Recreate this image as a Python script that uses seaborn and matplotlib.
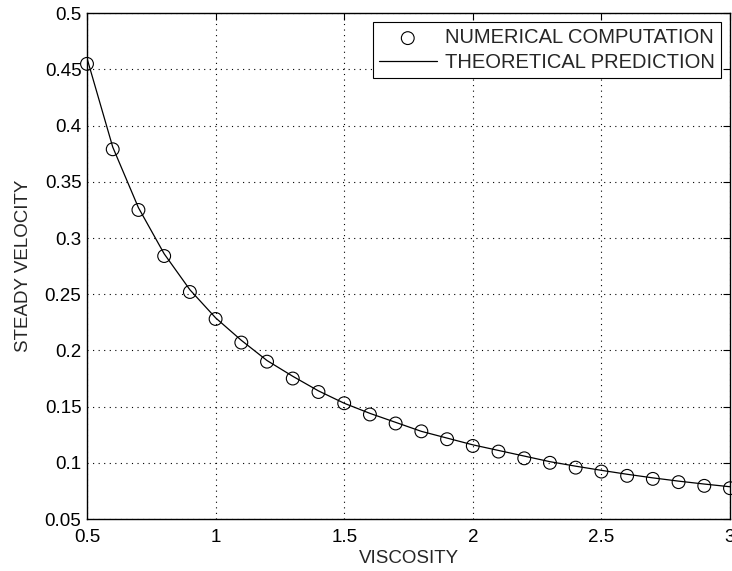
import matplotlib
matplotlib.use("Agg")
import matplotlib.pyplot as plt
import seaborn as sns
import pandas as pd

# Viscosity values where the steady velocity was evaluated
viscosity = [0.5, 0.6, 0.7, 0.8, 0.9, 1.0, 1.1, 1.2, 1.3, 1.4, 1.5, 1.6, 1.7,
             1.8, 1.9, 2.0, 2.1, 2.2, 2.3, 2.4, 2.5, 2.6, 2.7, 2.8, 2.9, 3.0]

# Steady velocity from the numerical computation
numerical = [0.455, 0.379, 0.325, 0.284, 0.252, 0.228, 0.207, 0.190, 0.175,
             0.163, 0.153, 0.143, 0.135, 0.128, 0.121, 0.115, 0.110, 0.104,
             0.100, 0.0957, 0.0922, 0.0884, 0.0857, 0.0828, 0.0795, 0.0774]

# Steady velocity from the theoretical prediction
theoretical = [0.460, 0.381, 0.327, 0.286, 0.254, 0.229, 0.209, 0.191, 0.177,
               0.164, 0.153, 0.144, 0.136, 0.128, 0.122, 0.116, 0.111, 0.106,
               0.101, 0.0970, 0.0933, 0.0898, 0.0866, 0.0837, 0.0811, 0.0787]

xticks = [0.5, 1, 1.5, 2, 2.5, 3]
xticklabels = ["0.5", "1", "1.5", "2", "2.5", "3"]
yticks = [0.05, 0.1, 0.15, 0.2, 0.25, 0.3, 0.35, 0.4, 0.45, 0.5]
yticklabels = ["0.05", "0.1", "0.15", "0.2", "0.25", "0.3", "0.35", "0.4", "0.45", "0.5"]

df = pd.DataFrame({"viscosity": viscosity,
                   "numerical": numerical,
                   "theoretical": theoretical})

sns.set_style("white")
plt.rcParams["font.family"] = ["Liberation Sans", "DejaVu Sans"]
plt.rcParams["font.size"] = 13.5

fig = plt.figure(figsize=(7.32, 5.71), dpi=100)
ax = fig.add_axes([87 / 732, 1 - 519 / 571, (730 - 87) / 732, (519 - 13.3) / 571])

sns.scatterplot(data=df, x="viscosity", y="numerical", ax=ax,
                marker="o", s=85, facecolors="none", edgecolors="black",
                linewidths=0.8, label="NUMERICAL COMPUTATION", zorder=3,
                clip_on=False)
sns.lineplot(data=df, x="viscosity", y="theoretical", ax=ax,
             color="black", linewidth=0.9, label="THEORETICAL PREDICTION",
             zorder=4)

ax.set_xlim(0.5, 3)
ax.set_ylim(0.05, 0.5)
ax.set_xticks(xticks)
ax.set_xticklabels(xticklabels)
ax.set_yticks(yticks)
ax.set_yticklabels(yticklabels)

ax.grid(True, linestyle=(0, (1, 4)), color="black", linewidth=0.8)
for s in ax.spines.values():
    s.set_color("black")
    s.set_linewidth(1.0)
ax.tick_params(direction="in", length=5, width=0.8, colors="black",
               top=True, right=True, labelsize=13.5)
ax.tick_params(axis="x", pad=7)
ax.tick_params(axis="y", pad=4)

ax.set_xlabel("VISCOSITY", fontsize=13.5, labelpad=3)
ax.set_ylabel("STEADY VELOCITY", fontsize=13.5, labelpad=9)

leg = ax.legend(loc="upper right", frameon=True, fancybox=False,
                edgecolor="black", framealpha=1, fontsize=14.5,
                borderaxespad=0.45, handlelength=2.9, handletextpad=0.4,
                borderpad=0.3, labelspacing=0.3)
leg.get_frame().set_linewidth(0.8)

fig.savefig("out.png", dpi=100)
